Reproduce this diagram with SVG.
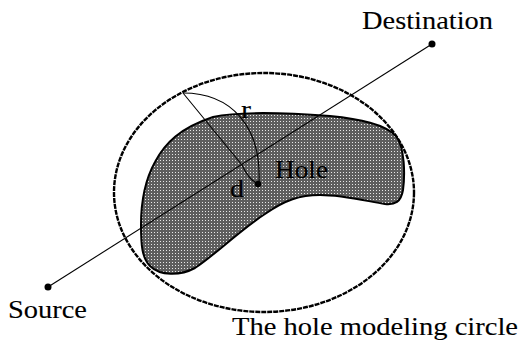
<svg xmlns="http://www.w3.org/2000/svg" width="520" height="341" viewBox="0 0 520 341">
  <defs>
    <pattern id="halftone" width="3" height="3" patternUnits="userSpaceOnUse">
      <rect width="3" height="3" fill="#5e5e5e"/>
      <rect x="1" y="1" width="1" height="1" fill="#e8e8e8"/>
    </pattern>
  </defs>
  <style>
    .lbl { font-family: "Liberation Serif", "Times New Roman", serif; font-size: 25px; fill: #000; stroke: #000; stroke-width: 0.1; }
    .thin { fill: none; stroke: #000; stroke-width: 1.1; }
    .dot { fill: #000; }
  </style>
  <rect width="520" height="341" fill="#ffffff"/>

  <g id="modeling-circle">
    <ellipse cx="264" cy="192.5" rx="150" ry="119.5" fill="none" stroke="#000" stroke-width="2.4" stroke-dasharray="5 1"/>
    <text class="lbl" x="232" y="335" textLength="286" lengthAdjust="spacingAndGlyphs">The hole modeling circle</text>
  </g>

  <g id="hole">
    <path d="M141,225 C141,200 145,180 155,162 C165,143 180,128 213,117 C240,111 290,113 330,116 C360,119 385,124 396,136 C405,148 405,175 403,190 C401,202 395,205 385,204 C370,202 345,195 320,195 C300,195 285,200 265,214 C240,230 215,255 195,268 C180,276 160,276 150,266 C142,258 141,245 141,225 Z" fill="url(#halftone)" stroke="#000" stroke-width="2"/>
    <circle class="dot" cx="258" cy="184" r="3.2"/>
    <text class="lbl" x="275" y="178" textLength="53" lengthAdjust="spacingAndGlyphs">Hole</text>
  </g>

  <g id="connectors">
    <line class="thin" x1="48" y1="287" x2="432" y2="44"/>
    <path class="thin" d="M183,93 L242,165 Q249,180 258,184"/>
    <path class="thin" d="M183,93 C230,93 262,125 259,184"/>
  </g>

  <g id="source">
    <circle class="dot" cx="48" cy="287" r="3.5"/>
    <text class="lbl" x="8" y="318" textLength="79" lengthAdjust="spacingAndGlyphs" style="font-size:26px">Source</text>
  </g>

  <g id="destination">
    <circle class="dot" cx="432" cy="44" r="3.5"/>
    <text class="lbl" x="362" y="29" textLength="131" lengthAdjust="spacingAndGlyphs">Destination</text>
  </g>

  <g id="label-r">
    <text class="lbl" x="241" y="118" textLength="10" lengthAdjust="spacingAndGlyphs">r</text>
  </g>
  <g id="label-d">
    <text class="lbl" x="230" y="197" textLength="14" lengthAdjust="spacingAndGlyphs">d</text>
  </g>
</svg>
